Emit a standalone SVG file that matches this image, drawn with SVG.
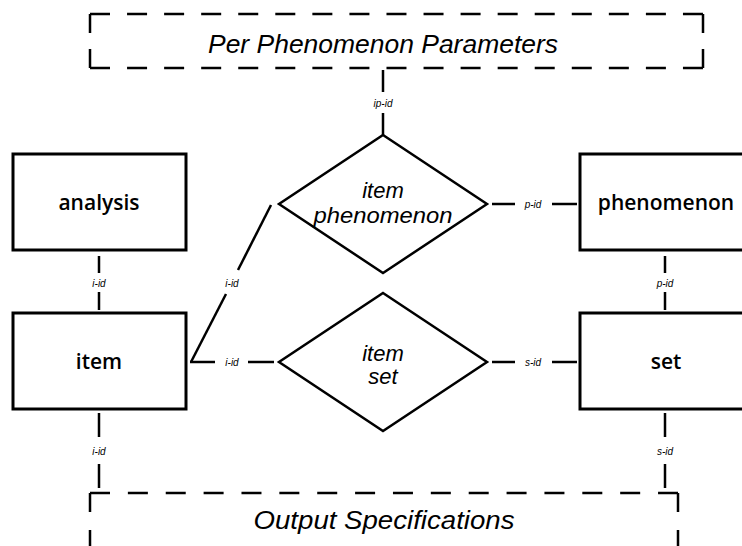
<svg xmlns="http://www.w3.org/2000/svg" width="742" height="546" viewBox="0 0 742 546">
<style>
.box{fill:#fff;stroke:#000;stroke-width:3}
.dl{fill:none;stroke:#000;stroke-width:2.5}
.dia{fill:#fff;stroke:#000;stroke-width:2.5}
.ln{stroke:#000;stroke-width:2.5;fill:none}
.ent{font-family:"Open Sans","DejaVu Sans",sans-serif;font-weight:600;font-size:21px;text-anchor:middle}
.rel{font-family:"Liberation Sans",Arial,sans-serif;font-style:italic;font-size:22px;text-anchor:middle}
.big{font-family:"Liberation Sans",Arial,sans-serif;font-style:italic;font-size:26px;text-anchor:middle}
.lab{font-family:"Liberation Sans",Arial,sans-serif;font-style:italic;font-size:10px;text-anchor:middle}
</style>
<rect width="742" height="546" fill="#fff"/>
<g id="connectors">
<line class="ln" x1="383" y1="70" x2="383" y2="92"/>
<line class="ln" x1="383" y1="113" x2="383" y2="135"/>
<text class="lab" x="383" y="107">ip-id</text>
<line class="ln" x1="492" y1="204" x2="515" y2="204"/>
<line class="ln" x1="552" y1="204" x2="577" y2="204"/>
<text class="lab" x="533" y="208">p-id</text>
<line class="ln" x1="99" y1="256" x2="99" y2="273"/>
<line class="ln" x1="99" y1="292" x2="99" y2="310"/>
<text class="lab" x="99" y="287">i-id</text>
<line class="ln" x1="665" y1="256" x2="665" y2="273"/>
<line class="ln" x1="665" y1="292" x2="665" y2="310"/>
<text class="lab" x="665" y="287">p-id</text>
<line class="ln" x1="190" y1="362" x2="215" y2="362"/>
<line class="ln" x1="248" y1="362" x2="274" y2="362"/>
<text class="lab" x="232" y="366">i-id</text>
<line class="ln" x1="492" y1="362" x2="515" y2="362"/>
<line class="ln" x1="552" y1="362" x2="577" y2="362"/>
<text class="lab" x="533" y="366">s-id</text>
<line class="ln" x1="191" y1="362" x2="226" y2="294" stroke-width="1.5"/>
<line class="ln" x1="238" y1="270" x2="271" y2="205" stroke-width="1.5"/>
<text class="lab" x="232" y="287">i-id</text>
<line class="ln" x1="99" y1="413" x2="99" y2="437"/>
<line class="ln" x1="99" y1="464" x2="99" y2="488"/>
<text class="lab" x="99" y="455">i-id</text>
<line class="ln" x1="665" y1="413" x2="665" y2="437"/>
<line class="ln" x1="665" y1="464" x2="665" y2="488"/>
<text class="lab" x="665" y="455">s-id</text>
</g>
<g id="per-phenomenon-parameters">
<line class="dl" x1="90" y1="14" x2="703" y2="14" stroke-dasharray="20 17.06"/>
<line class="dl" x1="90" y1="68" x2="703" y2="68" stroke-dasharray="20 17.06"/>
<line class="dl" x1="90" y1="14" x2="90" y2="68" stroke-dasharray="19 16"/>
<line class="dl" x1="703" y1="14" x2="703" y2="68" stroke-dasharray="19 16"/>
<text class="big" x="383" y="53" textLength="350" lengthAdjust="spacingAndGlyphs">Per Phenomenon Parameters</text>
</g>
<g id="output-specifications">
<line class="dl" x1="90" y1="493" x2="678" y2="493" stroke-dasharray="20 17.87"/>
<line class="dl" x1="90" y1="493" x2="90" y2="560" stroke-dasharray="19 18"/>
<line class="dl" x1="678" y1="493" x2="678" y2="560" stroke-dasharray="19 18"/>
<text class="big" x="384" y="529" textLength="261" lengthAdjust="spacingAndGlyphs">Output Specifications</text>
</g>
<g id="analysis">
<rect class="box" x="13" y="154" width="173" height="96"/>
<text class="ent" x="99" y="210">analysis</text>
</g>
<g id="item">
<rect class="box" x="13" y="313" width="173" height="96"/>
<text class="ent" x="99" y="369">item</text>
</g>
<g id="phenomenon">
<rect class="box" x="580" y="154" width="173" height="96"/>
<text class="ent" x="666" y="210">phenomenon</text>
</g>
<g id="set">
<rect class="box" x="580" y="313" width="173" height="96"/>
<text class="ent" x="666" y="369">set</text>
</g>
<g id="item-phenomenon">
<polygon class="dia" points="383,135 487,204 383,273 279,204"/>
<text class="rel" x="383" y="198">item</text>
<text class="rel" x="383" y="223" textLength="139" lengthAdjust="spacingAndGlyphs">phenomenon</text>
</g>
<g id="item-set">
<polygon class="dia" points="383,293 487,362 383,431 279,362"/>
<text class="rel" x="383" y="361">item</text>
<text class="rel" x="383" y="384">set</text>
</g>
</svg>
